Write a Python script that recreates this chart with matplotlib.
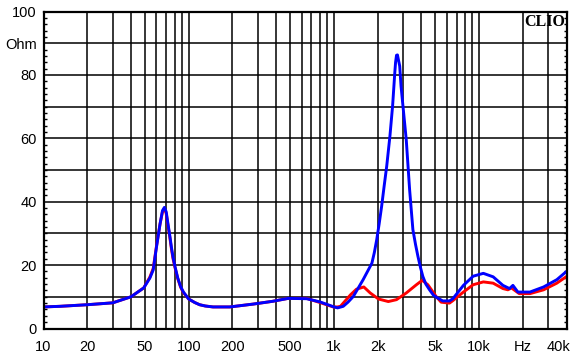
import matplotlib
matplotlib.use('Agg')
import matplotlib.pyplot as plt
from matplotlib.ticker import NullLocator, FixedLocator
import matplotlib.transforms as mtransforms

# ---- data ----
freq_blue = [10, 13, 20, 30, 40, 49, 54, 57, 60, 63.5, 66, 68, 70, 72, 74, 76, 78,
             80.5, 84, 88, 92, 100, 110, 119, 130, 147, 192, 278, 381, 484, 649,
             801, 989, 1060, 1160, 1250, 1360, 1460, 1590, 1827, 1900, 1972, 2050,
             2133, 2220, 2311, 2432, 2537, 2627, 2660, 2700, 2740, 2790, 2840, 2900,
             2990, 3150, 3323, 3500, 3650, 3790, 3950, 4100, 4300, 4560, 4850, 5190,
             5620, 6250, 6600, 7800, 9100, 10700, 12500, 14600, 16200, 17100, 18500,
             22400, 27800, 34300, 40000]
blue = [6.8, 7.0, 7.5, 8.1, 10.0, 12.8, 15.9, 18.5, 25.7, 33.0, 37.2, 38.2, 36.8,
        33.0, 29.5, 25.7, 22.5, 19.5, 16.0, 13.2, 11.5, 9.3, 8.2, 7.5, 7.1, 6.8,
        6.8, 7.7, 8.6, 9.5, 9.4, 8.4, 6.9, 6.5, 7.0, 8.3, 10.1, 12.5, 15.4, 20.6,
        24.0, 28.0, 33.0, 38.6, 45.0, 51.2, 60.7, 70.2, 80.7, 84.0, 86.2, 86.3,
        84.5, 82.8, 76.5, 70.2, 59.6, 43.8, 31.2, 26.5, 22.8, 19.2, 16.4, 14.0,
        12.2, 10.5, 9.6, 8.7, 8.7, 9.4, 13.6, 16.5, 17.4, 16.3, 13.6, 12.6, 13.6,
        11.5, 11.5, 13.1, 15.4, 18.0]

freq_red = [10, 13, 20, 30, 40, 49, 54, 57, 60, 63.5, 66, 68, 70, 72, 74, 76, 78,
            80.5, 84, 88, 92, 100, 110, 119, 130, 147, 192, 278, 381, 484, 649,
            801, 989, 1060, 1110, 1300, 1430, 1608, 1780, 2030, 2370, 2700, 3150,
            3700, 4060, 4440, 5060, 5480, 6250, 6600, 7800, 9100, 10700, 12500,
            14600, 15800, 16700, 18900, 22400, 27800, 34300, 40000]
red = [6.8, 7.0, 7.5, 8.1, 10.0, 12.8, 16.2, 19.0, 26.0, 33.0, 36.8, 37.8, 36.3,
       32.5, 29.0, 25.2, 22.0, 19.2, 15.8, 13.0, 11.3, 9.3, 8.2, 7.5, 7.1, 6.8,
       6.8, 7.7, 8.6, 9.5, 9.5, 8.2, 6.8, 6.8, 7.0, 10.6, 12.4, 13.1, 11.2, 9.3,
       8.5, 9.1, 11.2, 13.8, 15.2, 13.8, 10.1, 8.3, 8.0, 8.8, 11.5, 13.8, 14.7,
       14.3, 12.6, 12.2, 12.8, 11.0, 11.0, 12.2, 14.3, 16.4]

xgrid = [20, 30, 40, 50, 60, 70, 80, 90, 100, 200, 300, 400, 500, 600, 700, 800,
         900, 1000, 2000, 3000, 4000, 5000, 6000, 7000, 8000, 9000, 10000, 20000,
         30000]
ygrid = [10, 20, 30, 40, 50, 60, 70, 80, 90]

xtick_vals = [10, 20, 50, 100, 200, 500, 1000, 2000, 5000, 10000, 20000, 40000]
xtick_labels = ['10', '20', '50', '100', '200', '500', '1k', '2k', '5k', '10k', 'Hz', '40k']
ytick_vals = [0, 20, 40, 60, 80, 90, 100]
ytick_labels = ['0', '20', '40', '60', '80', 'Ohm', '100']

# ---- figure ----
plt.rcParams['font.family'] = ['Liberation Sans', 'DejaVu Sans']
W, H = 578, 363
fig = plt.figure(figsize=(W / 100, H / 100), dpi=100)
ax = fig.add_axes([43.5 / W, (H - 328.5) / H, 523 / W, 317 / H])
ax.set_xscale('log')
ax.set_xlim(10, 40000)
ax.set_ylim(0, 100)

for gx in xgrid:
    ax.axvline(gx, color='black', lw=1.1, zorder=1)
for gy in ygrid:
    ax.axhline(gy, color='black', lw=1.1, zorder=1)

ax.plot(freq_red, red, color='#ff0000', lw=2.1, zorder=3)
ax.plot(freq_blue, blue, color='#0000ff', lw=2.1, zorder=4)

ax.xaxis.set_major_locator(FixedLocator(xtick_vals))
ax.set_xticklabels(xtick_labels)
ax.xaxis.set_minor_locator(NullLocator())
ax.tick_params(axis='x', which='both', length=0, pad=8, labelsize=10.5)

ax.yaxis.set_major_locator(FixedLocator(ytick_vals))
ax.set_yticklabels(ytick_labels)
ax.yaxis.set_minor_locator(FixedLocator(list(range(0, 101, 2))))
ax.tick_params(axis='y', which='major', length=0, pad=5, labelsize=10.5)
ax.tick_params(axis='y', which='minor', direction='in', length=2.5, width=1,
               left=True, right=True)

for lbl in ax.get_xticklabels():
    if lbl.get_text() == '40k':
        lbl.set_transform(lbl.get_transform() +
                          mtransforms.ScaledTranslation(-8 / 100, 0, fig.dpi_scale_trans))

for s in ax.spines.values():
    s.set_linewidth(1.6)
    s.set_color('black')
    s.set_zorder(5)

ax.text(0.998, 0.993, 'CLIO', transform=ax.transAxes, ha='right', va='top',
        family='Liberation Serif', weight='bold', fontsize=11.5, zorder=6)

fig.savefig('out.png', dpi=100)
